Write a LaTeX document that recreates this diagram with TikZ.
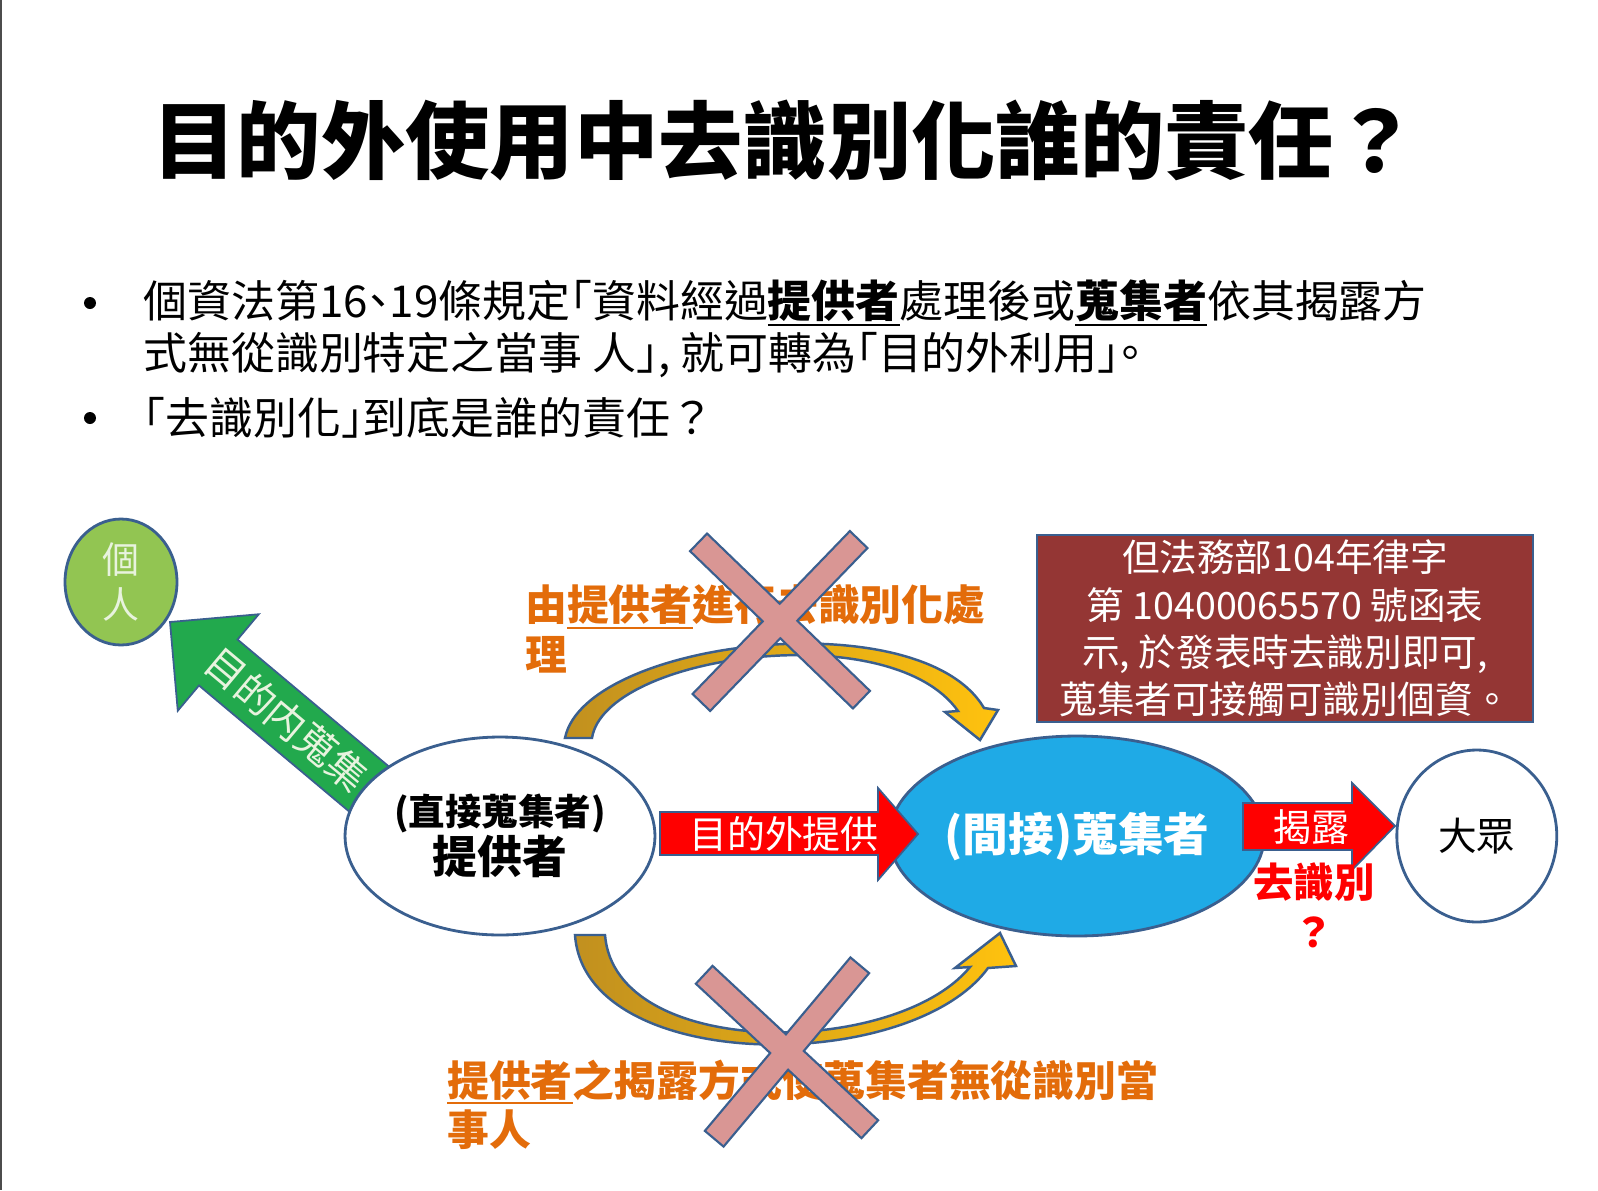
\documentclass[tikz,border=0pt]{standalone}
\usepackage{fontspec}
\setmainfont{Noto Sans CJK TC}
\usetikzlibrary{positioning,shapes.geometric,calc}

\definecolor{edgeblue}{HTML}{3A5F8F}
\definecolor{leafgreen}{HTML}{92C552}
\definecolor{arrowgreen}{HTML}{22A94D}
\definecolor{skyblue}{HTML}{1FAAE6}
\definecolor{notebrown}{HTML}{943634}
\definecolor{labelorange}{HTML}{E36C0A}
\definecolor{crosspink}{HTML}{D99694}
\definecolor{golddark}{HTML}{C1901F}
\definecolor{goldlight}{HTML}{FFC20E}
\definecolor{paletext}{HTML}{E8F3DE}

% thick underline used in the slide text
\newcommand{\markul}[1]{\leavevmode\vtop{\hbox{#1}\kern1pt\hrule height 1.4pt}}

\begin{document}
\begin{tikzpicture}[
  x=0.02cm, y=-0.02cm,
  node distance=11.54cm,
  titletext/.style={inner sep=0pt, font=\fontsize{48}{56}\selectfont\bfseries},
  bullettext/.style={anchor=west, inner sep=0pt, font=\fontsize{25}{29}\selectfont\addfontfeature{RawFeature=+halt}},
  ellipsenode/.style={ellipse, draw=edgeblue, line width=1.6pt, inner sep=0pt},
  person/.style={ellipsenode, fill=leafgreen, minimum width=2.24cm, minimum height=2.52cm, text=paletext, align=center, font=\fontsize{21}{25.5}\selectfont},
  provider/.style={ellipsenode, fill=white, minimum width=6.2cm, minimum height=3.96cm, align=center},
  collector/.style={ellipsenode, fill=skyblue, minimum width=6.2cm, minimum height=4cm, text=white, font=\fontsize{26}{30}\selectfont\bfseries},
  public/.style={ellipsenode, fill=white, minimum width=3.2cm, minimum height=3.44cm, font=\fontsize{22}{26}\selectfont},
  notebox/.style={rectangle, draw=edgeblue, line width=1.6pt, fill=notebrown, text=white, minimum width=9.92cm, minimum height=3.74cm, align=center, inner sep=0pt, font=\fontsize{21.4}{27}\selectfont},
  blockarrow/.style={draw=edgeblue, line width=1pt, line join=miter},
  curvearrow/.style={draw=edgeblue, line width=1.4pt, left color=golddark, right color=goldlight},
  crossbar/.style={draw=edgeblue, line width=2.6pt, fill=crosspink},
  arrowtext/.style={inner sep=0pt, text=white, font=\fontsize{21.6}{26}\selectfont},
  orangelabel/.style={anchor=west, inner sep=0pt, text=labelorange, font=\fontsize{23.8}{28}\selectfont\bfseries},
  redlabel/.style={inner sep=0pt, text=red, font=\fontsize{23}{27}\selectfont\bfseries}
]
\useasboundingbox (0,0) rectangle (1598,1190);
\fill[white] (0,0) rectangle (1598,1190);
\fill[black!70] (0,0) rectangle (2.5,1190);

% Title and bullets
\node[titletext] (title) at (785,140) {目的外使用中去識別化誰的責任？};
\fill (90,303) circle[radius=0.12cm];
\fill (90,418) circle[radius=0.12cm];
\node[bullettext] (line1) at (143,303) {個資法第16、19條規定「資料經過\markul{\textbf{提供者}}處理後或\markul{\textbf{蒐集者}}依其揭露方};
\node[bullettext] (line2) at (143,355) {式無從識別特定之當事 人」, 就可轉為「目的外利用」。};
\node[bullettext] (line3) at (143,418) {「去識別化」到底是誰的責任？};

% Green arrow to the person
\begin{scope}[shift={(170,622)}, rotate=140]
  \draw[blockarrow, fill=arrowgreen] (0,0) -- (-63,-63) -- (-63,-30) -- (-290,-30) -- (-290,30) -- (-63,30) -- (-63,63) -- cycle;
  \node[inner sep=0pt, rotate=-40, text=paletext, font=\fontsize{22.5}{26}\selectfont] (inlabel) at (-152,0) {目的内蒐集};
\end{scope}

% Curved arrows
\path[curvearrow] (565,738) .. controls (585,640) and (920,600) .. (984,708) -- (998,710) -- (980,740) -- (945,712) -- (958,711) .. controls (890,615) and (605,655) .. (592,738) -- cycle;
\path[curvearrow] (575,935) .. controls (585,1075) and (910,1075) .. (988,968) -- (1016,966) -- (1000,933) -- (955,968) -- (970,967) .. controls (895,1058) and (615,1060) .. (605,935) -- cycle;

% Nodes
\node[person] (person) at (121,582) {個\\人};
\node[provider] (prov) at (500,836) {{\fontsize{20.8}{27}\selectfont\bfseries (直接蒐集者)}\\{\fontsize{25.5}{27}\selectfont\bfseries 提供者}};
\node[collector, right of=prov] (coll) {(間接)蒐集者};
\node[public, right of=coll, node distance=8cm] (public) {大眾};
\node[notebox] (note) at (1285,628.5) {但法務部104年律字\\第 10400065570 號函表\\示, 於發表時去識別即可,\\蒐集者可接觸可識別個資。};

% Red arrows
\draw[blockarrow, fill=red] (660,812) -- (878,812) -- (878,788) -- (918,834) -- (878,880) -- (878,855) -- (660,855) -- cycle;
\node[arrowtext] (outlabel) at (784,834) {目的外提供};
\draw[blockarrow, fill=red] (1243,803) -- (1352,803) -- (1352,783) -- (1395,826) -- (1352,870) -- (1352,850) -- (1243,850) -- cycle;
\node[arrowtext] (disclose) at (1311,827) {揭露};
\node[redlabel] (deid) at (1314,882) {去識別};
\node[redlabel] (deidq) at (1314,932) {？};

% Orange labels
\node[orangelabel] (toplabel) at (525,607) {由\markul{提供者}進行去識別化處};
\node[orangelabel] (toplabelb) at (525,655) {理};
\node[orangelabel] (botlabel) at (447,1082) {\markul{提供者}之揭露方式使蒐集者無從識別當};
\node[orangelabel] (botlabelb) at (447,1130) {事人};

% Crosses
\foreach \cx/\cy/\ra/\rb in {780/621/-44/46, 787/1052/-43/50} {
  \path[crossbar, rotate around={\ra:(\cx,\cy)}] (\cx-112,\cy-11) rectangle (\cx+112,\cy+11);
  \path[crossbar, rotate around={\rb:(\cx,\cy)}] (\cx-112,\cy-11) rectangle (\cx+112,\cy+11);
  \fill[crosspink, rotate around={\ra:(\cx,\cy)}] (\cx-112,\cy-11) rectangle (\cx+112,\cy+11);
  \fill[crosspink, rotate around={\rb:(\cx,\cy)}] (\cx-112,\cy-11) rectangle (\cx+112,\cy+11);
}
\end{tikzpicture}
\end{document}
